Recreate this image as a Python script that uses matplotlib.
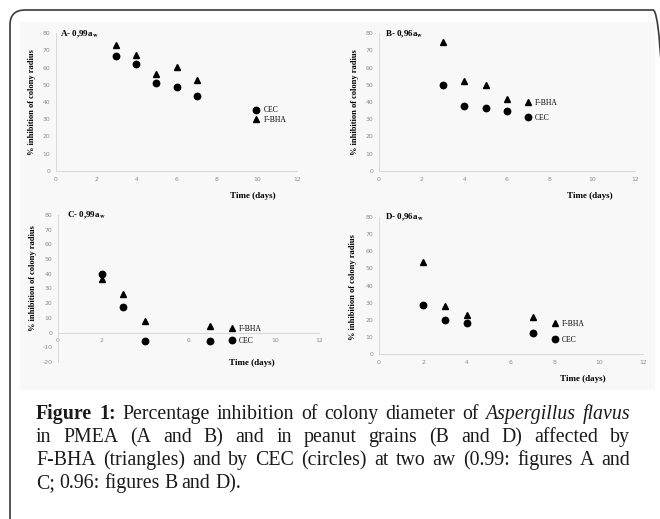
import matplotlib.pyplot as plt
from matplotlib.patches import FancyBboxPatch, Rectangle
from matplotlib.transforms import IdentityTransform

W, H = 660, 519

# values
days_A = [3, 4, 5, 6, 7]
cec_A = [66.5, 62, 51, 48.5, 43.5]
fbha_A = [73, 67, 56, 60.5, 52.5]

days_B = [3, 4, 5, 6]
cec_B = [50, 37.5, 36.7, 35]
fbha_B = [74.5, 52, 50, 42]

days_C = [2, 3, 4, 7]
cec_C = [40, 17.5, -6, -6]
fbha_C = [36.3, 26.3, 8, 4.5]

days_D = [2, 3, 4, 7]
cec_D = [28.5, 20, 18, 12]
fbha_D = [54, 28, 22.5, 21.5]

titles = ["A- 0,99a", "B- 0,96a", "C- 0,99a", "D- 0,96a"]
xlabel = "Time (days)"
ylabel = "% inhibition of colony radius"

caption = [
    [("Figure", "bold"), ("1:", "bold"), ("Percentage", ""), ("inhibition", ""), ("of", ""),
     ("colony", ""), ("diameter", ""), ("of", ""), ("Aspergillus", "italic"), ("flavus", "italic")],
    [(w, "") for w in "in PMEA (A and B) and in peanut grains (B and D) affected by".split()],
    [(w, "") for w in "F-BHA (triangles) and by CEC (circles) at two aw (0.99: figures A and".split()],
    [(w, "") for w in "C; 0.96: figures B and D).".split()],
]

plt.rcParams['axes.unicode_minus'] = False
plt.rcParams['mathtext.fontset'] = 'stix'
serif = 'Liberation Serif'

fig = plt.figure(figsize=(6.6, 5.19), dpi=100)

# outer rounded frame and faint chart background (pixel coords)
fig.add_artist(Rectangle((20, H - 390), 635, 368, facecolor='#f8f8f8', edgecolor='none',
                         transform=IdentityTransform(), zorder=-5))
fig.add_artist(FancyBboxPatch((10, -13), 658, 522, boxstyle="round,pad=0,rounding_size=15",
                              facecolor='none', edgecolor='#3a3a3a', lw=1.2,
                              transform=IdentityTransform(), zorder=-4))


def add_ax(left, top, right, bottom):
    return fig.add_axes([left / W, 1 - bottom / H, (right - left) / W, (bottom - top) / H])


panels = [
    dict(rect=(56, 33, 297, 171), days=days_A, cec=cec_A, fbha=fbha_A, ylim=(0, 80),
         order='cec', anchor=(9.83, 32.5), spacing=0.16,
         title=(60, 34), xl=(253, 196), yl=(32, 102)),
    dict(rect=(379, 33, 635, 171), days=days_B, cec=cec_B, fbha=fbha_B, ylim=(0, 80),
         order='fbha', anchor=(6.84, 35.3), spacing=0.94,
         title=(385, 34), xl=(590, 196), yl=(355, 102)),
    dict(rect=(58, 215, 319, 362), days=days_C, cec=cec_C, fbha=fbha_C, ylim=(-20, 80),
         order='fbha', anchor=(7.84, -1.5), spacing=0.46,
         title=(67, 215), xl=(252, 363), yl=(33, 278)),
    dict(rect=(379, 217, 643, 354), days=days_D, cec=cec_D, fbha=fbha_D, ylim=(0, 80),
         order='fbha', anchor=(7.84, 13), spacing=1.07,
         title=(385, 217), xl=(583, 379), yl=(353, 287)),
]

for p, title in zip(panels, titles):
    ax = add_ax(*p['rect'])
    ax.set_facecolor('none')
    c, = ax.plot(p['days'], p['cec'], 'o', color='black', ms=4.6, label='CEC', clip_on=False)
    t, = ax.plot(p['days'], p['fbha'], '^', color='black', ms=4.8, label='F-BHA', clip_on=False)
    ax.set_xlim(0, 12)
    ax.set_ylim(*p['ylim'])
    ax.set_xticks(range(0, 13, 2))
    ax.set_yticks(range(p['ylim'][0], 81, 10))
    ax.tick_params(length=0, labelsize=4.4, labelcolor='#8c8c8c', pad=4)
    for s in ['top', 'right']:
        ax.spines[s].set_visible(False)
    for s in ['left', 'bottom']:
        ax.spines[s].set_color('#d9d9d9')
        ax.spines[s].set_linewidth(0.7)
    if p['ylim'][0] < 0:
        ax.spines['bottom'].set_position(('data', 0))
    handles = [c, t] if p['order'] == 'cec' else [t, c]
    ax.legend(handles=handles, loc='center left', bbox_to_anchor=p['anchor'],
              bbox_transform=ax.transData, frameon=False, borderpad=0, borderaxespad=0,
              handlelength=0.8, handletextpad=0.55, labelspacing=p['spacing'],
              prop={'family': serif, 'size': 5.5})
    fig.text(p['title'][0] / W, 1 - p['title'][1] / H, title + r"$_\mathbf{w}$",
             family=serif, weight='bold', size=6.5, va='center', ha='left')
    fig.text(p['xl'][0] / W, 1 - p['xl'][1] / H, xlabel,
             family=serif, weight='bold', size=6.5, va='center', ha='center')
    fig.text(p['yl'][0] / W, 1 - p['yl'][1] / H, ylabel, rotation=90,
             family=serif, weight='bold', size=6, va='center', ha='center')

# justified caption
renderer = fig.canvas.get_renderer()
x0, x1 = 36, 630
base = 419
for i, line in enumerate(caption):
    y = 1 - (base + i * 23) / H
    texts = []
    for word, style in line:
        kw = dict(family=serif, size=14.3, color='#1a1a1a', va='baseline')
        if style == 'bold':
            kw['weight'] = 'bold'
        if style == 'italic':
            kw['style'] = 'italic'
        texts.append(fig.text(0, y, word, **kw))
    widths = [tx.get_window_extent(renderer).width for tx in texts]
    if i < len(caption) - 1:
        gap = (x1 - x0 - sum(widths)) / (len(texts) - 1)
    else:
        gap = 4.5
    x = x0
    for tx, w in zip(texts, widths):
        tx.set_x(x / W)
        x += w + gap

fig.savefig('out.png', dpi=100)
